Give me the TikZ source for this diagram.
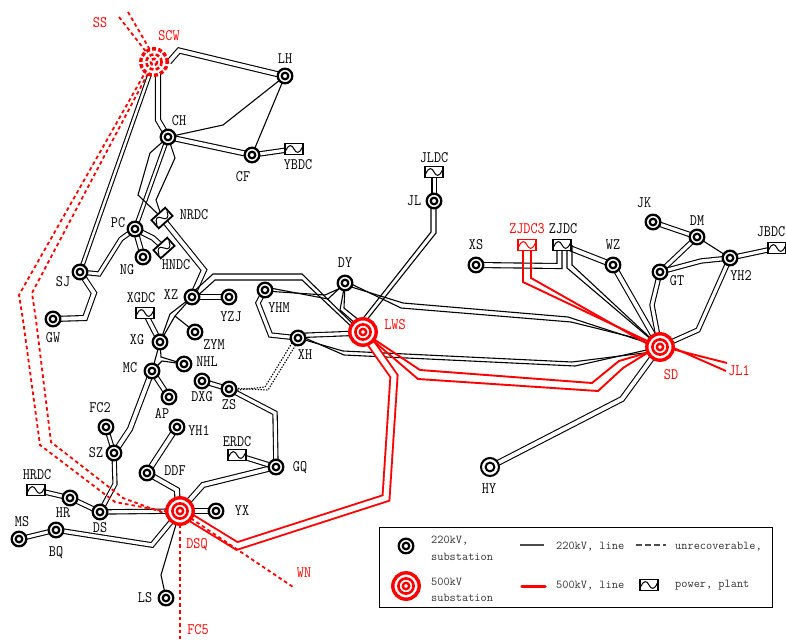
\documentclass[tikz,border=0pt]{standalone}
\pgfdeclarelayer{bg}
\pgfsetlayers{bg,main}
\newcommand{\tlab}[4][black]{\node[lab,text=#1] (t#4) at (#2,#3) {\scalebox{.86}[1]{#4}};}
\newcommand{\lgd}[4]{\node[leg,anchor=west] (#1) at (#2,#3) {#4};}
\tikzset{
  x=1pt,y=-1pt,
  lab/.style={font=\ttfamily\fontsize{16}{16}\selectfont,inner sep=0pt},
  leg/.style={font=\ttfamily\fontsize{12}{12}\selectfont,inner sep=0pt,text=black!80},
  sub/.style={circle,draw=black,line width=2.3pt,fill=white,minimum size=14.6pt,inner sep=0pt,
    path picture={\draw[line width=2.2pt] (path picture bounding box.center) circle (3.3);}},
  bigsub/.style={circle,draw=black,line width=2pt,fill=white,minimum size=18pt,inner sep=0pt,
    path picture={\draw[line width=2pt] (path picture bounding box.center) circle (4.4);}},
  big/.style={circle,draw=red,line width=3.4pt,fill=white,minimum size=26.4pt,inner sep=0pt,#1,
    path picture={\draw[red,line width=2.6pt,#1] (path picture bounding box.center) circle (7.6);
      \draw[red,line width=2.4pt,#1] (path picture bounding box.center) circle (3.2);}},
  big/.default={solid},
  plant/.style={rectangle,draw=#1,line width=1.8pt,fill=white,minimum width=18.5pt,minimum height=11pt,inner sep=0pt,
    path picture={\draw[#1,line width=1pt,shift={(path picture bounding box.center)}]
      (-8,1.5) .. controls (-5.5,-5) and (-2,-4.5) .. (0,0) .. controls (2,4.5) and (5.5,5) .. (8,-1.5);}},
  plant/.default=black,
  ln/.style={draw=black,line width=1.1pt},
  dbl/.style={draw=black,line width=1.1pt,double=white,double distance=#1},
  dbl/.default=3.9,
  rl/.style={draw=red,line width=1.9pt},
  rdbl/.style={draw=red,line width=1.9pt,double=white,double distance=5.2},
  rdash/.style={draw=red,line width=1.8pt,dash pattern=on 3.6pt off 3pt},
  dots/.style={draw=black,line width=1.1pt,dash pattern=on 1.4pt off 1.4pt},
}
\begin{document}
\begin{tikzpicture}
\useasboundingbox (0,0) rectangle (786,639);
% stations
\node[sub] (LH) at (285,76) {};
\node[sub] (CH) at (168,137) {};
\node[sub] (CF) at (252,155) {};
\node[sub] (PC) at (135,229) {};
\node[sub] (NG) at (143,257) {};
\node[sub] (SJ) at (80,272) {};
\node[sub] (GW) at (53,319) {};
\node[sub] (XZ) at (192,297) {};
\node[sub] (YZJ) at (229,297) {};
\node[sub] (YHM) at (265,290) {};
\node[sub] (XG) at (160,342) {};
\node[sub] (ZYM) at (195,332) {};
\node[sub] (NHL) at (184,364) {};
\node[sub] (MC) at (152,371) {};
\node[sub] (AP) at (169,397) {};
\node[sub] (FC2) at (106,427) {};
\node[sub] (SZ) at (114,453) {};
\node[sub] (YH1) at (177,427) {};
\node[sub] (DXG) at (202,381) {};
\node[sub] (ZS) at (229,389) {};
\node[sub] (XH) at (298,338) {};
\node[sub] (GQ) at (276,467) {};
\node[sub] (DDF) at (147,473) {};
\node[sub] (HR) at (70,498) {};
\node[sub] (DS) at (100,512) {};
\node[sub] (MS) at (19,539) {};
\node[sub] (BQ) at (56,530) {};
\node[sub] (YX) at (216,511) {};
\node[sub] (LS) at (166,598) {};
\node[sub] (JL) at (434,201) {};
\node[sub] (XS) at (476,265) {};
\node[sub] (DY) at (345,283) {};
\node[sub] (WZ) at (613,265) {};
\node[sub] (JK) at (653,222) {};
\node[sub] (DM) at (697,237) {};
\node[sub] (GT) at (660,272) {};
\node[sub] (YH2) at (730,258) {};
\node[bigsub] (HY) at (490,467) {};
\node[big={dash pattern=on 4pt off 2.2pt}] (SCW) at (154,62) {};
\node[big] (DSQ) at (180,511) {};
\node[big] (LWS) at (363,332) {};
\node[big] (SD) at (660,347) {};
% plants
\node[plant] (YBDC) at (294,149) {};
\node[plant,rotate=42] (NRDC) at (162,218) {};
\node[plant,rotate=42] (HNDC) at (164,248) {};
\node[plant] (XGDC) at (145,313) {};
\node[plant] (ERDC) at (237,455) {};
\node[plant] (HRDC) at (36,490) {};
\node[plant] (JLDC) at (434,172) {};
\node[plant=red] (ZJDC3) at (527,245) {};
\node[plant] (ZJDC) at (562,245) {};
\node[plant] (JBDC) at (777,248) {};
% free ends
\coordinate (ss1) at (119,17);
\coordinate (ss2) at (128,12);
\coordinate (wn) at (293,587);
\coordinate (fc5) at (180,639);
\coordinate (jl1a) at (727,363);
\coordinate (jl1b) at (726,371);
\begin{pgfonlayer}{bg}
% double 220 kV lines
\draw[dbl] (SCW.east) -- (179,50.5) -- (LH.center);
\draw[dbl] ([xshift=4pt]SCW.center) -- (158,120) -- (CH.center);
\draw[dbl=2.4] (SCW.center) -- (SJ.center);
\draw[dbl] (CH.center) -- (CF.center);
\draw[dbl=3.2] (CF.center) -- (YBDC.center);
\draw[dbl=2.4] (CH.center) -- (PC.center);
\draw[dbl] (NRDC.center) -- (204,270) -- (XZ.center);
\draw[dbl=3.5] (PC.center) -- (153,238) -- (HNDC.center);
\draw[dbl=3.5] (PC.center) -- (NG.center);
\draw[dbl=3] (PC.center) -- (121,239) -- (99,274) -- (SJ.center);
\draw[dbl=3.9] (SJ.center) -- (94,293) -- (85,318) -- (GW.center);
\draw[dbl=4.5] (XZ.center) -- (YZJ.center);
\draw[dbl=3.5] (XGDC.center) -- (XG.center);
\draw[dbl=3.5] (MC.center) -- (AP.center);
\draw[dbl] (MC.center) -- (130,429) -- (SZ.center);
\draw[dbl=2.6] (FC2.center) -- (SZ.center);
\draw[dbl=3] (SZ.center) -- (115,484) -- (DS.center);
\draw[dbl=3.2] (HRDC.center) -- (HR.center);
\draw[dbl=3.2] (HR.center) -- (DS.center);
\draw[dbl=3.2] (DS.center) -- (DSQ.center);
\draw[dbl=3] (MS.center) -- (BQ.center);
\draw[dbl=3.4] (BQ.center) -- (152,545) -- (DSQ.center);
\draw[dbl] (DDF.center) -- (177,490) -- ([xshift=-2pt]DSQ.center);
\draw[dbl] (YH1.center) -- (DDF.center);
\draw[dbl=3.9] (GQ.center) -- (203,485) -- (DSQ.center);
\draw[dbl=3.9] (DSQ.center) -- (YX.center);
\draw[dbl=3.2] (DXG.center) -- (ZS.center);
\draw[dbl=3.2] (ZS.center) -- (275,413) -- (GQ.center);
\draw[dbl=3.2] (ERDC.center) -- (GQ.center);
\draw[dbl=3.2] (YHM.center) -- (258,303) -- (270.5,335) -- (XH.center);
\draw[dbl=3.2] ([yshift=2.5pt]XH.center) -- ([yshift=-1pt]LWS.center);
\draw[dbl=3] (JLDC.center) -- (JL.center);
\draw[dbl] (XS.center) -- (559.5,266) -- ([xshift=-2.5pt]ZJDC.center);
\draw[dbl] (ZJDC.center) -- (WZ.center);
\draw[dbl] (WZ.center) -- (SD.center);
\draw[dbl=3.2] (GT.center) -- (652,305) -- (SD.center);
\draw[dbl=3.2] (YH2.center) -- (698,330) -- (SD.center);
\draw[dbl=3.2] (GT.center) -- (DM.center);
\draw[dbl=3.2] (GT.center) -- (701,261) -- (YH2.center);
\draw[dbl=3.2] (JK.center) -- (DM.center);
\draw[dbl=3.2] (YH2.center) -- (JBDC.center);
\draw[dbl] (SD.center) -- (622,399) -- (HY.center);
% crossing pairs, drawn as two separate lines
\draw[ln] ([shift={(-1,-3)}]XZ.center) -- (213,274) -- (302,274) -- ([shift={(-8,-6)}]LWS.center);
\draw[ln] ([shift={(2,2)}]XZ.center) -- (215,280) -- (302,280) -- ([shift={(-8,-2)}]LWS.center);
\draw[ln] ([yshift=-1pt]YHM.center) -- (325,295) -- ([yshift=-3pt]DY.center);
\draw[ln] ([yshift=3pt]YHM.center) -- (328,299) -- (DY.center);
\draw[ln] (DY.center) -- (340,310) -- ([shift={(-7,-8)}]LWS.center);
\draw[ln] (DY.center) -- (344,308) -- ([shift={(-3,-11)}]LWS.center);
\draw[ln] ([yshift=-2pt]DY.center) -- (403,303) -- (568,317) -- (SD.center);
\draw[ln] ([yshift=2pt]DY.center) -- (401,308) -- (571,322) -- ([yshift=3pt]SD.center);
\draw[ln] ([xshift=-3pt]JL.center) -- (431,232) -- ([shift={(-6,-6)}]LWS.center);
\draw[ln] ([xshift=2pt]JL.center) -- (436,233) -- ([shift={(-1,-6)}]LWS.center);
\draw[ln] (XH.center) -- (343,351) -- (572,362) -- ([yshift=-4pt]SD.center);
\draw[ln] ([yshift=3pt]XH.center) -- (344,355) -- (575,366) -- (SD.center);
\draw[ln] ([xshift=5pt]ZJDC.center) -- (567,268) -- (SD.center);
\draw[ln] ([xshift=10pt]ZJDC.center) -- (572,265) -- (SD.center);
% single lines
\draw[ln] (LH.center) -- (223,125) -- (CH.center);
\draw[ln] (LH.center) -- (CF.center);
\draw[ln] (CH.center) -- (150,153) -- (138,195) -- (NRDC.center);
\draw[ln] (CH.center) -- (175,158) -- (156,200) -- (NRDC.center);
\draw[ln] (XZ.center) -- (170,314) -- (XG.center);
\draw[ln] (XZ.center) -- (175,316) -- (XG.center);
\draw[ln] (175,316) -- (ZYM.center);
\draw[ln] (XG.center) -- (MC.center);
\draw[ln] (XG.center) -- (161,357) -- (NHL.center);
\draw[ln] (MC.center) -- (162,361) -- (NHL.center);
\draw[ln] (LS.center) -- (161,575) -- (DSQ.center);
\draw[ln] (DM.center) -- (YH2.center);
% dotted pair
\draw[dots] ([xshift=2pt]XH.center) -- (268,390) -- ([yshift=1pt]ZS.center);
\draw[dots] ([xshift=-3pt]XH.center) -- (265,387) -- ([yshift=-2pt]ZS.center);
% red lines
\draw[rdbl] (DSQ.center) -- (237,546) -- (386,498) -- (394,376) -- (LWS.center);
\draw[rl] (LWS.center) -- (420,370) -- (592,383) -- (619,361) -- ([yshift=-2pt]SD.center);
\draw[rl] (LWS.center) -- (418,379) -- (598,391) -- (623,368) -- ([yshift=2pt]SD.center);
\draw[rl] ([xshift=-4pt]ZJDC3.center) -- (523,282) -- (SD.center);
\draw[rl] ([xshift=4pt]ZJDC3.center) -- (531,278) -- ([yshift=-4pt]SD.center);
\draw[rl] ([yshift=1pt]SD.center) -- (jl1a);
\draw[rl] ([yshift=5pt]SD.center) -- (jl1b);
% red dashed lines
\draw[rdash] (ss1) -- (SCW.center);
\draw[rdash] (ss2) -- ([xshift=3pt]SCW.center);
\draw[rdash] ([shift={(-4,2)}]SCW.center) -- (19,295) -- (23,320) -- (40,445) -- (115,502) -- ([yshift=-3pt]DSQ.center);
\draw[rdash] (SCW.center) -- (32,293) -- (36,320) -- (51,442) -- (123,498) -- ([yshift=-8pt]DSQ.center);
\draw[rdash] (DSQ.center) -- (wn);
\draw[rdash] (DSQ.center) -- (fc5);
\end{pgfonlayer}
% labels
\tlab[red]{100}{23}{SS}
\tlab[red]{169}{36}{SCW}
\tlab{285}{59}{LH}
\tlab{179}{121}{CH}
\tlab{243}{177}{CF}
\tlab{298}{165}{YBDC}
\tlab{194}{215}{NRDC}
\tlab{118}{223}{PC}
\tlab{176}{265}{HNDC}
\tlab{127}{270}{NG}
\tlab{63}{282}{SJ}
\tlab{53}{338}{GW}
\tlab{141}{298}{XGDC}
\tlab{171}{295}{XZ}
\tlab{231}{317}{YZJ}
\tlab{279}{308}{YHM}
\tlab{214}{345}{ZYM}
\tlab{137}{340}{XG}
\tlab{207}{362}{NHL}
\tlab{130}{368}{MC}
\tlab{162}{413}{AP}
\tlab{100}{408}{FC2}
\tlab{96}{453}{SZ}
\tlab{199}{431}{YH1}
\tlab{202}{397}{DXG}
\tlab{229}{405}{ZS}
\tlab{305}{355}{XH}
\tlab{237}{442}{ERDC}
\tlab{300}{468}{GQ}
\tlab{175}{471}{DDF}
\tlab{37}{475}{HRDC}
\tlab{63}{513}{HR}
\tlab{100}{528}{DS}
\tlab{22}{522}{MS}
\tlab{56}{553}{BQ}
\tlab[red]{197}{545}{DSQ}
\tlab{242}{511}{YX}
\tlab[red]{304}{573}{WN}
\tlab{145}{598}{LS}
\tlab[red]{198}{630}{FC5}
\tlab{434}{158}{JLDC}
\tlab{414}{201}{JL}
\tlab{345}{263}{DY}
\tlab[red]{395}{325}{LWS}
\tlab{476}{245}{XS}
\tlab[red]{527}{229}{ZJDC3}
\tlab{563}{229}{ZJDC}
\tlab{613}{245}{WZ}
\tlab{644}{203}{JK}
\tlab{697}{221}{DM}
\tlab{677}{281}{GT}
\tlab{741}{276}{YH2}
\tlab{771}{232}{JBDC}
\tlab[red]{671}{375}{SD}
\tlab[red]{739}{371}{JL1}
\tlab{489}{489}{HY}
% legend
\node[draw=black,line width=1.2pt,minimum width=393pt,minimum height=80pt,inner sep=0pt] (legend) at (576,567.5) {};
\node[sub] (k220) at (406,546) {};
\node[big] (k500) at (406,586) {};
\lgd{t1}{431}{541}{220kV,}
\lgd{t2}{431}{557}{substation}
\lgd{t3}{431}{582}{500kV}
\lgd{t4}{431}{598}{substation}
\lgd{t5}{556}{547}{220kV, line}
\lgd{t6}{556}{586}{500kV, line}
\lgd{t7}{675}{547}{unrecoverable,}
\lgd{t8}{675}{585}{power, plant}
\node[plant] (kp) at (649,585) {};
\coordinate (a1) at (520,545); \coordinate (a2) at (544,545);
\coordinate (b1) at (522,586.5); \coordinate (b2) at (545,586.5);
\coordinate (c1) at (636,545); \coordinate (c2) at (666,545);
\draw[draw=black!70,line width=1.2pt] (a1) -- (a2);
\draw[draw=red,line width=3.5pt,line cap=round] (b1) -- (b2);
\draw[draw=black!70,line width=1.2pt,dash pattern=on 6pt off 3pt] (c1) -- (c2);
\end{tikzpicture}
\end{document}
